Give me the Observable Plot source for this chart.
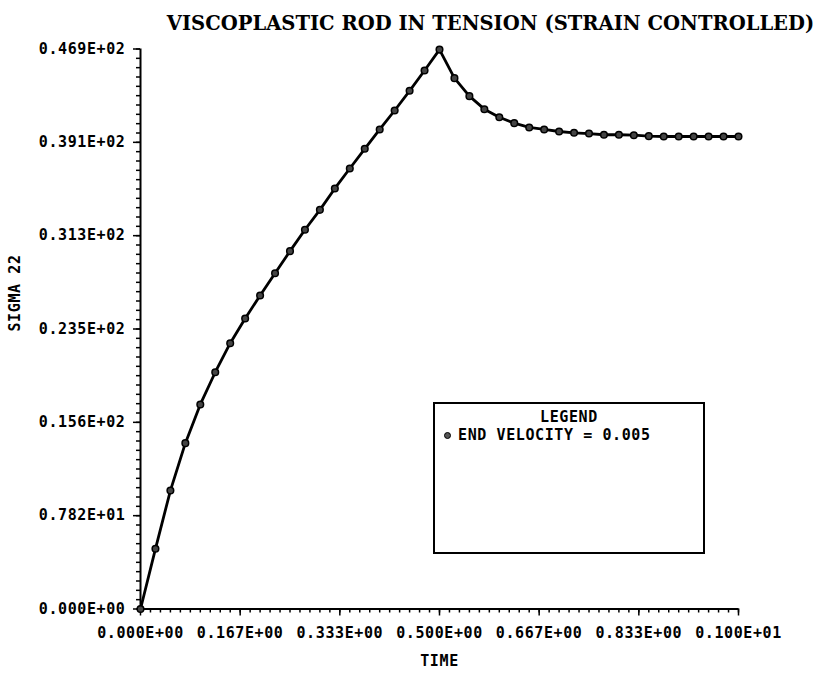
<!DOCTYPE html>
<html>
<head>
<meta charset="utf-8">
<script src="https://cdn.jsdelivr.net/npm/d3@7"></script>
<script src="https://cdn.jsdelivr.net/npm/@observablehq/plot@0.6"></script>
<style>
  html, body { margin: 0; padding: 0; background: #fff; }
  #wrap { position: relative; width: 824px; height: 675px; }
  #legend {
    position: absolute; left: 433px; top: 402px; width: 268px; height: 148px;
    border: 2px solid #000; box-sizing: content-box;
    font-family: "DejaVu Sans Mono", monospace; font-weight: bold; font-size: 15px;
    color: #000; letter-spacing: 0.6px;
  }
  #legend .title { text-align: center; margin-top: 5px; line-height: 17px; }
  #legend .row { margin-left: 9px; margin-top: 1px; line-height: 17px; display: flex; align-items: center; }
  #legend .sym { display: inline-block; width: 5px; height: 5px; border: 1.5px solid #000; border-radius: 50%; background: #555; margin-right: 7px; }
</style>
</head>
<body>
<div id="wrap"></div>
<script>
// Data
const time = [0, 0.025, 0.05, 0.075, 0.1, 0.125, 0.15, 0.175, 0.2, 0.225,
  0.25, 0.275, 0.3, 0.325, 0.35, 0.375, 0.4, 0.425, 0.45, 0.475,
  0.5, 0.525, 0.55, 0.575, 0.6, 0.625, 0.65, 0.675, 0.7, 0.725,
  0.75, 0.775, 0.8, 0.825, 0.85, 0.875, 0.9, 0.925, 0.95, 0.975, 1.0];
const sigma22 = [0, 5.04, 9.92, 13.89, 17.13, 19.83, 22.26, 24.33, 26.26, 28.12,
  29.97, 31.76, 33.43, 35.22, 36.89, 38.54, 40.16, 41.75, 43.40, 45.10,
  46.85, 44.46, 42.95, 41.86, 41.19, 40.69, 40.33, 40.16, 39.99, 39.88,
  39.82, 39.72, 39.72, 39.68, 39.60, 39.57, 39.57, 39.57, 39.57, 39.57, 39.57];

const xTickValues = [0, 0.16667, 0.33333, 0.5, 0.66667, 0.83333, 1.0];
const xTickLabels = ["0.000E+00", "0.167E+00", "0.333E+00", "0.500E+00", "0.667E+00", "0.833E+00", "0.100E+01"];
const yTickValues = [0, 7.81667, 15.63333, 23.45, 31.26667, 39.08333, 46.9];
const yTickLabels = ["0.000E+00", "0.782E+01", "0.156E+02", "0.235E+02", "0.313E+02", "0.391E+02", "0.469E+02"];

const titleText = "VISCOPLASTIC ROD IN TENSION (STRAIN CONTROLLED)";
const xLabel = "TIME";
const yLabel = "SIGMA 22";
const legendTitle = "LEGEND";
const legendEntry = "END VELOCITY = 0.005";

const data = time.map((t, i) => ({t, s: sigma22[i]}));

// minor tick positions: 10 subdivisions per labelled interval
const xMinor = d3.range(0, 61).map(i => i / 60);
const yMinor = d3.range(0, 61).map(i => i * 46.9 / 60);

const mono = "DejaVu Sans Mono, monospace";

const chart = Plot.plot({
  width: 824,
  height: 675,
  marginLeft: 140,
  marginRight: 86,
  marginTop: 48.5,
  marginBottom: 66.5,
  style: { fontFamily: mono, fontWeight: "bold", fontSize: "15px", color: "#000", background: "#fff", letterSpacing: "0.6px" },
  x: { domain: [0, 1] },
  y: { domain: [0, 46.9] },
  marks: [
    Plot.axisX({ ticks: xMinor, tickSize: 4, text: null, label: null, strokeWidth: 1.5 }),
    Plot.axisX({ ticks: xTickValues, tickSize: 7, tickPadding: 11, strokeWidth: 1.5,
      tickFormat: (d, i) => xTickLabels[i], fontSize: 15, label: null }),
    Plot.axisY({ ticks: yMinor, tickSize: 4, text: null, label: null, strokeWidth: 1.5 }),
    Plot.axisY({ ticks: yTickValues, tickSize: 7, tickPadding: 8, strokeWidth: 1.5,
      tickFormat: (d, i) => yTickLabels[i], fontSize: 15, label: null }),
    Plot.ruleX([0], { strokeWidth: 2 }),
    Plot.ruleY([0], { strokeWidth: 2 }),
    Plot.line(data, { x: "t", y: "s", stroke: "#000", strokeWidth: 2.8 }),
    Plot.dot(data, { x: "t", y: "s", r: 3.3, fill: "#444", stroke: "#000", strokeWidth: 1.5 }),
    Plot.text([titleText], { frameAnchor: "top", dx: 51, dy: -33, fontSize: 21, fontWeight: "bold",
      fontFamily: "DejaVu Serif, serif", className: "ttl" }),
    Plot.text([xLabel], { frameAnchor: "bottom", dy: 57, fontSize: 15, fontWeight: "bold" }),
    Plot.text([yLabel], { frameAnchor: "left", textAnchor: "middle", dx: -125, dy: -36, rotate: -90, fontSize: 15, fontWeight: "bold" })
  ]
});

const wrap = document.getElementById("wrap");
wrap.appendChild(chart);

// fit the title's font size so its natural width matches the reference (~648px)
const t = chart.querySelector(".ttl text");
if (t) {
  t.style.letterSpacing = "0px";
  const natural = t.getComputedTextLength();
  if (natural > 0) {
    const fs = Math.min(24, 21 * 648 / natural);
    t.setAttribute("font-size", fs.toFixed(2));
    t.style.fontSize = fs.toFixed(2) + "px";
  }
}

const leg = document.createElement("div");
leg.id = "legend";
leg.innerHTML = `<div class="title">${legendTitle}</div><div class="row"><span class="sym"></span>${legendEntry}</div>`;
wrap.appendChild(leg);
</script>
</body>
</html>
